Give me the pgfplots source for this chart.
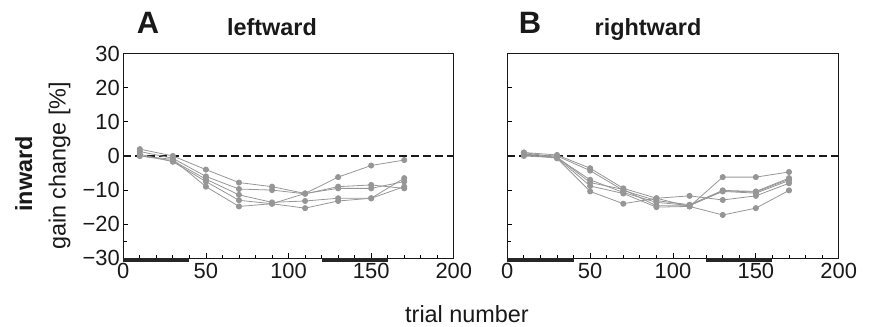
\documentclass[border=0pt]{standalone}
\usepackage{fontspec}
\setmainfont{Liberation Sans}
\usepackage{pgfplots}
\pgfplotsset{compat=1.18}
\definecolor{dotgray}{RGB}{150,150,150}
\pgfplotsset{
  panel/.style={
    scale only axis, width=330.5bp, height=204.7bp,
    xmin=0, xmax=200, ymin=-30, ymax=30,
    xtick={0,50,100,150,200}, xticklabels={0,50,100,150,200},
    minor xtick={10,20,30,40,60,70,80,90,110,120,130,140,160,170,180,190},
    ytick={-30,-20,-10,0,10,20,30}, minor ytick={-25},
    tick align=inside, xtick pos=bottom, ytick pos=left,
    major tick length=5bp, minor tick length=3.5bp,
    tick style={black, line width=0.8bp},
    axis line style={line width=1bp, black!90},
    ticklabel style={font=\fontsize{22}{22}\selectfont, text=black!90},
    xticklabel style={yshift=-1bp},
    clip=false,
  },
  subj/.style={color=dotgray, line width=0.8bp, mark=*, mark size=2.6bp, mark options={fill=dotgray, draw=dotgray}},
  zeroline/.style={black!90, line width=2bp, dash pattern=on 8bp off 4bp, forget plot},
  blockbar/.style={black!85, line width=4bp, forget plot},
}
\begin{document}
\begin{tikzpicture}[x=1bp, y=1bp]
\path[use as bounding box] (0,0) rectangle (873,326);
% Panel A
\begin{axis}[panel, at={(123.3bp,67.7bp)}, anchor=south west,
  yticklabels={−30,−20,−10,0,10,20,30}]
\addplot[zeroline] coordinates {(0,0) (200,0)};
\addplot[blockbar] coordinates {(0,-30.5) (40,-30.5)};
\addplot[blockbar] coordinates {(120,-30.5) (160,-30.5)};
\addplot[subj] coordinates {(10,2.0) (30,0.0) (50,-4.0) (70,-7.8) (90,-9.0) (110,-11.0) (130,-6.2) (150,-2.8) (170,-1.2)};
\addplot[subj] coordinates {(10,1.3) (30,-0.7) (50,-6.0) (70,-9.7) (90,-10.0) (110,-11.1) (130,-9.0) (150,-8.5) (170,-9.5)};
\addplot[subj] coordinates {(10,0.0) (30,-1.4) (50,-6.8) (70,-11.4) (90,-13.6) (110,-13.2) (130,-12.4) (150,-12.4) (170,-6.5)};
\addplot[subj] coordinates {(10,0.5) (30,-1.7) (50,-7.5) (70,-13.0) (90,-14.0) (110,-11.0) (130,-9.5) (150,-9.5) (170,-7.5)};
\addplot[subj] coordinates {(10,0.0) (30,-1.0) (50,-9.0) (70,-14.8) (90,-14.0) (110,-15.3) (130,-13.2) (150,-12.4) (170,-9.0)};
\end{axis}
% Panel B
\begin{axis}[panel, at={(507.3bp,67.7bp)}, anchor=south west, width=331.4bp,
  yticklabels={}]
\addplot[zeroline] coordinates {(0,0) (200,0)};
\addplot[blockbar] coordinates {(0,-30.5) (40,-30.5)};
\addplot[blockbar] coordinates {(120,-30.5) (160,-30.5)};
\addplot[subj] coordinates {(10,1.0) (30,0.3) (50,-3.6) (70,-9.5) (90,-12.4) (110,-14.8) (130,-6.2) (150,-6.2) (170,-4.7)};
\addplot[subj] coordinates {(10,0.5) (30,0.0) (50,-4.3) (70,-10.1) (90,-13.1) (110,-14.3) (130,-10.1) (150,-10.4) (170,-6.5)};
\addplot[subj] coordinates {(10,0.0) (30,-0.5) (50,-7.0) (70,-10.7) (90,-13.6) (110,-14.5) (130,-10.4) (150,-10.9) (170,-7.2)};
\addplot[subj] coordinates {(10,0.5) (30,-0.7) (50,-10.4) (70,-14.0) (90,-12.4) (110,-11.7) (130,-12.9) (150,-11.7) (170,-8.0)};
\addplot[subj] coordinates {(10,1.0) (30,-0.5) (50,-8.8) (70,-11.0) (90,-15.0) (110,-14.8) (130,-17.3) (150,-15.3) (170,-10.1)};
\addplot[subj] coordinates {(10,0.2) (30,-0.3) (50,-7.8) (70,-9.8) (90,-14.6) (110,-14.6) (130,-10.2) (150,-10.6) (170,-6.8)};
\end{axis}
% Titles
\node[anchor=base, font=\bfseries\fontsize{31}{31}\selectfont, text=black!90] at (148,293) {A};
\node[anchor=base, font=\bfseries\fontsize{23.5}{23.5}\selectfont, text=black!90] at (272,291) {leftward};
\node[anchor=base, font=\bfseries\fontsize{31}{31}\selectfont, text=black!90] at (530,293) {B};
\node[anchor=base, font=\bfseries\fontsize{23.5}{23.5}\selectfont, text=black!90] at (648,291) {rightward};
% Axis labels
\node[anchor=base, rotate=90, font=\bfseries\fontsize{23.5}{23.5}\selectfont, text=black!90] at (32,152) {inward};
\node[anchor=base, rotate=90, font=\fontsize{23.5}{23.5}\selectfont, text=black!90] at (65.5,160) {gain change [\%]};
\node[anchor=base, font=\fontsize{23.5}{23.5}\selectfont, text=black!90] at (467,4) {trial number};
\end{tikzpicture}
\end{document}
